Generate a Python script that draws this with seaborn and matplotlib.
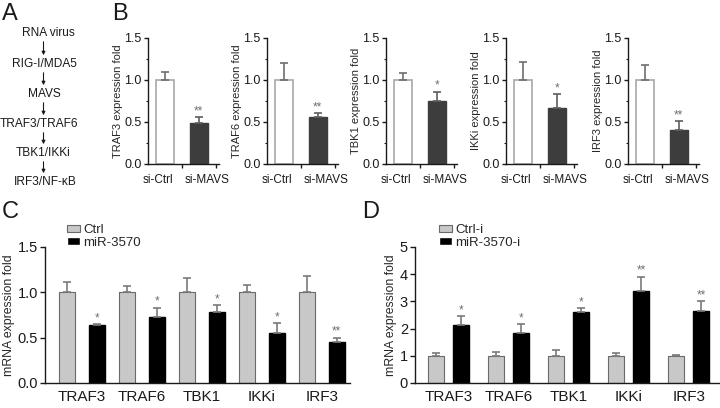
import numpy as np
import pandas as pd
import matplotlib
matplotlib.use('Agg')
import matplotlib.pyplot as plt
import seaborn as sns
from matplotlib.patches import FancyArrowPatch
from matplotlib.container import BarContainer

# ---- data ----
pathway = ['RNA virus', 'RIG-I/MDA5', 'MAVS', 'TRAF3/TRAF6', 'TBK1/IKKi', 'IRF3/NF-κB']

b_genes = ['TRAF3', 'TRAF6', 'TBK1', 'IKKi', 'IRF3']
b_groups = ['si-Ctrl', 'si-MAVS']
b_ctrl = [1.0, 1.0, 1.0, 1.0, 1.0]
b_ctrl_err = [0.10, 0.20, 0.08, 0.21, 0.18]
b_mavs = [0.49, 0.56, 0.75, 0.67, 0.41]
b_mavs_err = [0.07, 0.045, 0.11, 0.16, 0.10]
b_sig = ['**', '**', '*', '*', '**']

genes = ['TRAF3', 'TRAF6', 'TBK1', 'IKKi', 'IRF3']
c_groups = ['Ctrl', 'miR-3570']
c_ctrl = [1.0, 1.0, 1.0, 1.0, 1.0]
c_ctrl_err = [0.11, 0.07, 0.16, 0.08, 0.18]
c_mir = [0.64, 0.73, 0.78, 0.55, 0.45]
c_mir_err = [0.01, 0.10, 0.08, 0.11, 0.05]
c_sig = ['*', '*', '*', '*', '**']

d_groups = ['Ctrl-i', 'miR-3570-i']
d_ctrl = [1.0, 1.0, 1.0, 1.0, 1.0]
d_ctrl_err = [0.09, 0.14, 0.22, 0.09, 0.02]
d_mir = [2.12, 1.85, 2.62, 3.40, 2.64]
d_mir_err = [0.33, 0.32, 0.12, 0.50, 0.36]
d_sig = ['*', '*', '*', '**', '**']

sns.set_style('ticks')
plt.rcParams['font.family'] = ['Liberation Sans', 'DejaVu Sans']
plt.rcParams['axes.linewidth'] = 1.0
plt.rcParams['axes.edgecolor'] = '#1a1a1a'
plt.rcParams['xtick.color'] = '#1a1a1a'
plt.rcParams['ytick.color'] = '#1a1a1a'

W, H = 720, 408
fig = plt.figure(figsize=(7.2, 4.08), dpi=100)


def px_axes(l, t, r, b):
    return fig.add_axes([l / W, 1 - b / H, (r - l) / W, (b - t) / H])


def bars_of(cont):
    return [p for p in cont if p is not None and hasattr(p, 'get_x')]


def add_errs(ax, errs, colors, sigs=None, sig_size=8.5):
    # one bar container per hue level
    conts = [c for c in ax.containers if isinstance(c, BarContainer)]
    for k, (cont, err) in enumerate(zip(conts, errs)):
        for patch, e in zip(bars_of(cont), err):
            x = patch.get_x() + patch.get_width() / 2
            h = patch.get_height()
            ax.errorbar(x, h, yerr=[[0], [e]], fmt='none', ecolor=colors[k],
                        elinewidth=1.2, capsize=3, capthick=1.2, zorder=1)
    if sigs is not None:
        for patch, e, s in zip(bars_of(conts[-1]), errs[-1], sigs):
            x = patch.get_x() + patch.get_width() / 2
            ax.annotate(s, (x, patch.get_height() + e), xytext=(0, 0),
                        textcoords='offset points', ha='center', va='bottom',
                        fontsize=sig_size, color='#707070')


# ---- overlay for panel A and letters ----
ov = fig.add_axes([0, 0, 1, 1])
ov.set_xlim(0, W)
ov.set_ylim(H, 0)
ov.axis('off')

a_x = [48, 44, 44, 39, 43, 45]
a_y = [33, 64, 94, 124, 153, 182]
for name, x, y in zip(pathway, a_x, a_y):
    ov.text(x, y, name, ha='center', va='center', fontsize=8.6, color='#1a1a1a')
for i in range(len(a_y) - 1):
    ov.add_patch(FancyArrowPatch((43.5, a_y[i] + 6), (43.5, a_y[i + 1] - 6),
                                 arrowstyle='-|>', mutation_scale=5, lw=0.8,
                                 color='#1a1a1a'))

for lab, x, y in [('A', 2, 3), ('B', 112, 3), ('C', 2, 201), ('D', 362, 201)]:
    ov.text(x, y, lab, ha='left', va='top', fontsize=17, color='#1a1a1a')

# ---- panel B ----
b_left = [148, 267, 386, 506, 628]
for i, g in enumerate(b_genes):
    ax = px_axes(b_left[i], 38, b_left[i] + 71, 164)
    sns.barplot(x=b_groups, y=[b_ctrl[i], b_mavs[i]], hue=b_groups,
                palette=['white', '#3d3d3d'], width=0.52, legend=False, ax=ax)
    p0 = bars_of(ax.containers[0])[0]
    p1 = bars_of(ax.containers[1])[0]
    p0.set_edgecolor('#a8a8a8')
    p0.set_linewidth(1.2)
    p1.set_edgecolor('#3d3d3d')
    add_errs(ax, [[b_ctrl_err[i]], [b_mavs_err[i]]], ['#6e6e6e', '#5e5e5e'],
             [b_sig[i]])
    ax.set_ylim(0, 1.5)
    ax.set_xlim(-0.5, 1.6)
    ax.set_yticks([0, 0.5, 1.0, 1.5])
    ax.set_yticklabels(['0.0', '0.5', '1.0', '1.5'])
    ax.set_yticks([0.25, 0.75, 1.25], minor=True)
    # labels sit a little wider apart than the bars in the original
    ax.set_xticks([-0.22, 1.26])
    ax.set_xticklabels(b_groups)
    ax.set_xticks([0.5, 1.5], minor=True)
    ax.tick_params(axis='x', which='major', length=0, pad=7, labelsize=8.5)
    ax.tick_params(axis='x', which='minor', length=3, width=1)
    ax.tick_params(axis='y', which='major', length=3, width=1, pad=1.5,
                   labelsize=9)
    ax.tick_params(axis='y', which='minor', length=1.8, width=0.8)
    ax.set_xlabel('')
    ax.set_ylabel(g + ' expression fold', fontsize=8, labelpad=1)
    sns.despine(ax=ax)


def grouped(ax, ctrl, treat, groups, width, gap):
    df = pd.DataFrame({'gene': genes * 2,
                       'group': [groups[0]] * len(genes) + [groups[1]] * len(genes),
                       'value': ctrl + treat})
    sns.barplot(data=df, x='gene', y='value', hue='group', hue_order=groups,
                palette=['#c8c8c8', 'black'], width=width, gap=gap,
                errorbar=None, ax=ax)
    for p in bars_of(ax.containers[0]):
        p.set_edgecolor('#6a6a6a')
        p.set_linewidth(0.8)
    for p in bars_of(ax.containers[1]):
        p.set_edgecolor('black')
    handles, labels = ax.get_legend_handles_labels()
    if ax.get_legend() is not None:
        ax.get_legend().remove()
    handles[0].set_edgecolor('#6a6a6a')
    handles[0].set_linewidth(0.8)
    return handles, labels


def style_grouped(ax):
    ax.set_xlabel('')
    ax.set_ylabel('mRNA expression fold', fontsize=8.8, labelpad=2)
    ax.tick_params(axis='x', length=0, pad=5, labelsize=11)
    ax.tick_params(axis='y', length=3.5, width=1, pad=1.5, labelsize=10.5)
    sns.despine(ax=ax)


# ---- panel C ----
axc = px_axes(45, 247, 350, 383)
h, l = grouped(axc, c_ctrl, c_mir, c_groups, 1.0, 0.47)
add_errs(axc, [c_ctrl_err, c_mir_err], ['#7a7a7a', '#7a7a7a'], c_sig)
axc.set_ylim(0, 1.5)
axc.set_xlim(-0.62, 4.47)
axc.set_yticks([0, 0.5, 1.0, 1.5])
axc.set_yticklabels(['0.0', '0.5', '1.0', '1.5'])
style_grouped(axc)
axc.legend(h, l, loc='upper left', bbox_to_anchor=(67 / W, 1 - 224 / H),
           bbox_transform=fig.transFigure, frameon=False, fontsize=9.5,
           handlelength=0.95, handleheight=0.45, handletextpad=0.3,
           labelspacing=0.05, borderpad=0, borderaxespad=0)

# ---- panel D ----
axd = px_axes(415, 247, 720, 383)
h, l = grouped(axd, d_ctrl, d_mir, d_groups, 0.84, 0.37)
add_errs(axd, [d_ctrl_err, d_mir_err], ['#7a7a7a', '#7a7a7a'], d_sig)
axd.set_ylim(0, 5)
axd.set_xlim(-0.56, 4.52)
axd.set_yticks([0, 1, 2, 3, 4, 5])
style_grouped(axd)
axd.legend(h, l, loc='upper left', bbox_to_anchor=(439 / W, 1 - 224 / H),
           bbox_transform=fig.transFigure, frameon=False, fontsize=9.5,
           handlelength=0.95, handleheight=0.45, handletextpad=0.3,
           labelspacing=0.05, borderpad=0, borderaxespad=0)

fig.savefig('out.png', dpi=100)
